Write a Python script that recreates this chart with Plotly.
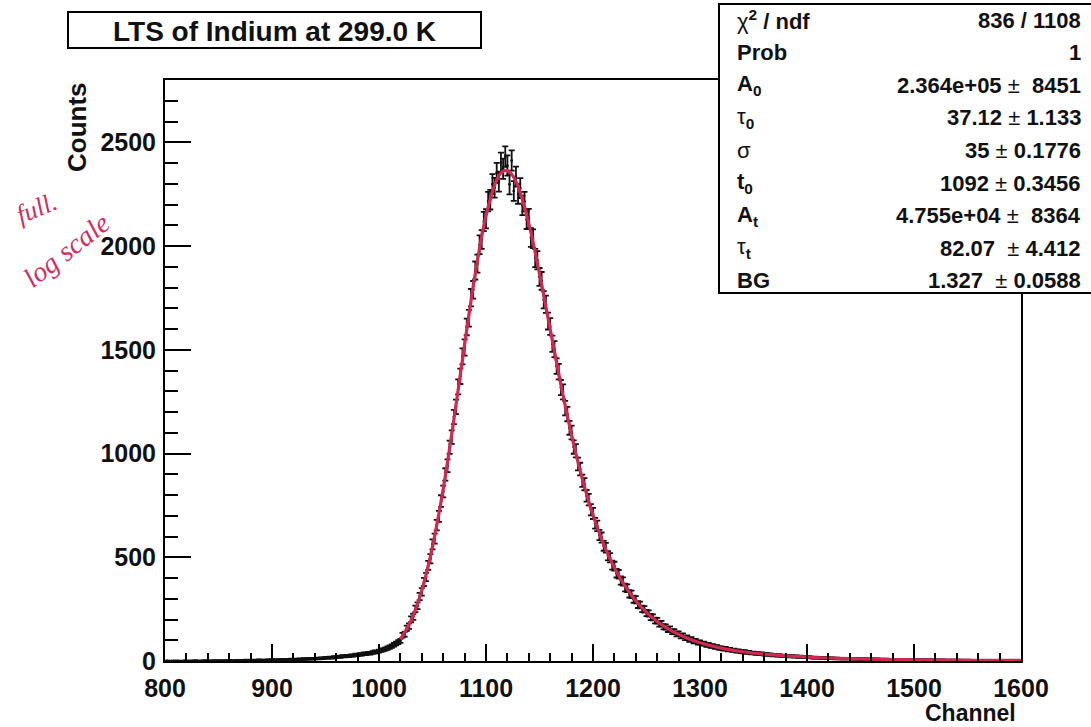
import numpy as np
import plotly.graph_objects as go

# ---------------- data ----------------
channel_start, channel_stop, channel_step = 800, 1600, 2

counts_800_1018 = [
    0, 1, 0, 0, 1, 0, 1, 0, 0, 1, 1, 0, 1, 0, 2, 1, 0, 1, 1, 2, 0, 1, 1, 2, 1, 2,
    1, 2, 1, 2, 3, 1, 2, 2, 3, 2, 3, 2, 4, 3, 2, 3, 4, 3, 5, 4, 3, 4, 5, 4, 6,
    5, 4, 6, 5, 7, 6, 5, 7, 8, 6, 8, 7, 9, 8, 10, 9, 11, 10, 12, 11, 13, 12, 14, 13, 16,
    15, 17, 16, 19, 18, 21, 20, 23, 22, 25, 24, 27, 26, 30, 29, 32, 31, 35, 34, 38, 37, 41, 44, 43, 48,
    51, 54, 58, 62, 67, 72, 78, 84, 91,
]
counts_1020_1398 = [
    97, 124, 129, 158, 168, 201, 213, 251, 266, 311,
    333, 381, 405, 461, 493, 562, 590, 655, 697, 771,
    817, 899, 941, 1030, 1079, 1176, 1225, 1321, 1372, 1468,
    1511, 1610, 1652, 1751, 1789, 1882, 1915, 2006, 2031, 2118,
    2131, 2214, 2223, 2298, 2281, 2352, 2310, 2401, 2372, 2431,
    2388, 2297, 2412, 2265, 2334, 2251, 2279, 2196, 2214, 2128,
    2133, 2041, 2035, 1942, 1931, 1851, 1832, 1741, 1719, 1638,
    1612, 1529, 1503, 1421, 1395, 1318, 1297, 1219, 1190, 1124,
    1101, 1031, 1013, 949, 925, 869, 852, 796, 778, 729,
    711, 664, 651, 607, 595, 555, 546, 507, 498, 462,
    457, 423, 418, 388, 383, 354, 351, 324, 321, 298,
    295, 272, 270, 251, 249, 231, 229, 212, 210, 195,
    194, 179, 180, 165, 164, 152, 154, 141, 142, 130,
    131, 120, 122, 111, 113, 103, 105, 95, 97, 89,
    90, 83, 84, 77, 78, 72, 73, 67, 68, 62,
    63, 58, 60, 54, 56, 51, 52, 48, 49, 45,
    44, 45, 41, 42, 38, 39, 36, 37, 34, 35,
    32, 33, 30, 31, 28, 29, 26, 28, 25, 26,
    24, 25, 22, 23, 21, 22, 20, 21, 19, 20,
]
counts_1400_1600 = [
    18, 19, 17, 16, 17, 15, 16, 14, 15, 14, 14, 13, 14, 12, 13, 12, 12, 11, 12, 11,
    11, 10, 11, 10, 10, 9, 10, 9, 9, 8, 9, 8, 8, 9, 7, 8, 7, 8, 7, 6,
    7, 6, 7, 6, 6, 7, 5, 6, 6, 5,
    6, 5, 6, 5, 5, 6, 4, 5, 5, 4, 5, 4, 4, 5, 4, 4, 3, 4, 4, 3,
    4, 3, 4, 3, 3, 4, 3, 3, 2, 3, 3, 3, 2, 3, 2, 3, 3, 2, 3, 2,
    2, 3, 2, 2, 3, 2, 2, 2, 3, 2, 2,
]

fit_channels = [1020, 1030, 1040, 1050, 1060, 1070, 1080, 1090, 1100, 1110, 1115, 1120,
                1125, 1130, 1140, 1150, 1160, 1170, 1180, 1190, 1200, 1210, 1220, 1230,
                1240, 1250, 1260, 1270, 1280, 1290, 1300, 1320, 1340, 1360, 1380, 1400,
                1420, 1440, 1460, 1480, 1500, 1520, 1540, 1560, 1580, 1600]
fit_values = [104.3, 195.2, 339.8, 550.2, 829.2, 1163.8, 1524.6, 1867.6, 2145.2, 2317.9, 2356.4, 2363.3,
              2339.1, 2285.9, 2108.7, 1866.8, 1598.3, 1331.6, 1088.5, 878.2, 703.4, 562.2, 449.5, 360.3,
              290.1, 234.6, 190.7, 156.0, 128.2, 106.0, 88.2, 62.1, 44.7, 32.8, 24.5, 18.7,
              14.4, 11.2, 9.0, 7.2, 5.9, 4.8, 4.0, 3.4, 3.0, 2.6]

x_ticks = [800, 900, 1000, 1100, 1200, 1300, 1400, 1500, 1600]
y_ticks = [0, 500, 1000, 1500, 2000, 2500]

title_text = "LTS of Indium at 299.0 K"
stat_labels = ["χ<b><sup>2</sup> / ndf</b>", "<b>Prob</b>", "<b>A<sub>0</sub></b>", "τ<b><sub>0</sub></b>",
               "σ", "<b>t<sub>0</sub></b>", "<b>A<sub>t</sub></b>", "τ<b><sub>t</sub></b>", "<b>BG</b>"]
stat_values = ["<b>836 / 1108</b>", "<b>1</b>", "<b>2.364e+05</b> ±  <b>8451</b>",
               "<b>37.12</b> ± <b>1.133</b>", "<b>35</b> ± <b>0.1776</b>", "<b>1092</b> ± <b>0.3456</b>",
               "<b>4.755e+04</b> ±  <b>8364</b>", "<b>82.07</b>  ± <b>4.412</b>", "<b>1.327</b>  ± <b>0.0588</b>"]

# ---------------- figure ----------------
counts = np.array(counts_800_1018 + counts_1020_1398 + counts_1400_1600, dtype=float)
channels = np.arange(channel_start, channel_stop + 1, channel_step)
errors = np.sqrt(counts)

W, H = 1091, 727
L, R, T, B = 165, 1021, 80, 661   # plot-area pixel edges


def px(x):
    return (x - L) / (R - L)


def py(y):
    return (B - y) / (B - T)


FONT = "Liberation Sans, Arial, Helvetica, sans-serif"

fig = go.Figure()
fig.add_trace(go.Scatter(
    x=channels, y=counts, mode="markers",
    marker=dict(size=2.5, color="#111"),
    error_y=dict(type="data", array=errors, color="#111", thickness=1.8, width=3),
    error_x=dict(type="constant", value=1, color="#111", thickness=1.8, width=0),
    hoverinfo="x+y",
))
fig.add_trace(go.Scatter(
    x=fit_channels, y=fit_values, mode="lines",
    line=dict(color="#d3284f", width=3.2, shape="spline"),
))

axis_common = dict(
    showline=True, linecolor="black", linewidth=2, mirror=True,
    showgrid=False, zeroline=False, ticks="inside", tickcolor="black", tickwidth=2,
    tickfont=dict(family=FONT, size=25, color="#111", weight="bold"),
)
fig.update_xaxes(range=[800, 1600], tickvals=x_ticks, ticklen=17, ticklabelstandoff=4,
                 minor=dict(tick0=800, dtick=20, ticks="inside", ticklen=8, tickwidth=1.5,
                            tickcolor="black", showgrid=False),
                 **axis_common)
fig.update_yaxes(range=[0, 2800], tickvals=y_ticks, ticklen=26, ticklabelstandoff=2,
                 minor=dict(tick0=0, dtick=100, ticks="inside", ticklen=13, tickwidth=1.5,
                            tickcolor="black", showgrid=False),
                 **axis_common)

shapes = [
    # title box
    dict(type="rect", xref="paper", yref="paper", x0=px(68), x1=px(481), y0=py(48), y1=py(12),
         line=dict(color="black", width=2), fillcolor="white", layer="above"),
    # statistics box
    dict(type="rect", xref="paper", yref="paper", x0=px(719), x1=px(1100), y0=py(293), y1=py(4),
         line=dict(color="black", width=2), fillcolor="white", layer="above"),
]

annotations = [
    dict(text="<b>" + title_text + "</b>", xref="paper", yref="paper", x=px(274), y=py(31),
         showarrow=False, font=dict(family=FONT, size=28, color="#111"), xanchor="center", yanchor="middle"),
    dict(text="<b>Counts</b>", xref="paper", yref="paper", x=px(77), y=py(127), textangle=-90,
         showarrow=False, font=dict(family=FONT, size=26, color="#111"), xanchor="center", yanchor="middle"),
    dict(text="<b>Channel</b>", xref="paper", yref="paper", x=px(970), y=py(713),
         showarrow=False, font=dict(family=FONT, size=23, color="#111"), xanchor="center", yanchor="middle"),
    # handwritten note
    dict(text="full.", xref="paper", yref="paper", x=px(36), y=py(208), textangle=-22,
         showarrow=False, font=dict(family="Liberation Serif, serif", size=26, color="#cf2d5f", style="italic"),
         xanchor="center", yanchor="middle"),
    dict(text="log scale", xref="paper", yref="paper", x=px(66), y=py(250), textangle=-38,
         showarrow=False, font=dict(family="Liberation Serif, serif", size=28, color="#cf2d5f", style="italic"),
         xanchor="center", yanchor="middle"),
]

for i, (lab, val) in enumerate(zip(stat_labels, stat_values)):
    yrow = 20 + 32.6 * i
    annotations.append(dict(text=lab, xref="paper", yref="paper", x=px(735), y=py(yrow),
                            showarrow=False, font=dict(family=FONT, size=22, color="#111"),
                            xanchor="left", yanchor="middle"))
    annotations.append(dict(text=val, xref="paper", yref="paper", x=px(1083), y=py(yrow),
                            showarrow=False, font=dict(family=FONT, size=22, color="#111"),
                            xanchor="right", yanchor="middle"))

fig.update_layout(
    width=W, height=H,
    margin=dict(l=L, r=W - R, t=T, b=H - B),
    paper_bgcolor="white", plot_bgcolor="white",
    showlegend=False,
    shapes=shapes, annotations=annotations,
)

fig.write_html("out.html")
